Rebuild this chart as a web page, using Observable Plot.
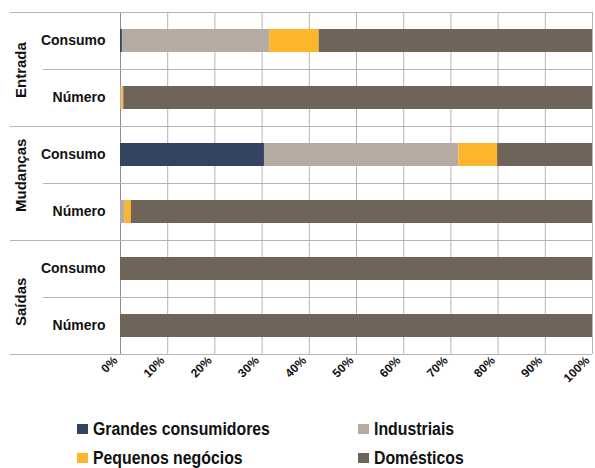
<!DOCTYPE html>
<html><head><meta charset="utf-8">
<script src="https://cdn.jsdelivr.net/npm/d3@7"></script>
<script src="https://cdn.jsdelivr.net/npm/@observablehq/plot@0.6"></script>
<style>
body{margin:0;background:#fff;font-family:"Liberation Sans",Arial,sans-serif;}
#legend{display:grid;grid-template-columns:281px 220px;margin-left:77px;margin-top:13px;row-gap:5px;font-weight:bold;font-size:18px;color:#111;}
#legend div{display:flex;align-items:center;height:24px;white-space:nowrap;}
#legend span.sw{width:11px;height:10px;margin-right:5px;display:inline-block;flex:none;}
#legend span.tx{display:inline-block;transform:scaleX(0.88);transform-origin:left center;}
</style></head><body>
<div id="chart"></div>
<div id="legend"></div>
<script>
const groups = ["Entrada","Mudanças","Saídas"];
const measures = ["Consumo","Número"];
const categories = ["Grandes consumidores","Industriais","Pequenos negócios","Domésticos"];
const colors = ["#32445f","#b5aba2","#fdb52b","#6e645a"];
// values in % per row: Entrada Consumo, Entrada Número, Mudanças Consumo, Mudanças Número, Saídas Consumo, Saídas Número
const grandes     = [0.4, 0,    30.5, 0,   0,   0];
const industriais = [31.2, 0.3, 41.2, 1.0, 0,   0];
const pequenos    = [10.5, 0.4, 8.2,  1.3, 0,   0];
const domesticos  = [57.9, 99.3, 20.1, 97.7, 100, 100];
const xTicks = [0,10,20,30,40,50,60,70,80,90,100];

const rows = [];
groups.forEach(g => measures.forEach(m => rows.push({group:g, measure:m, key:g+"|"+m})));
const keys = rows.map(r => r.key);
const series = [grandes, industriais, pequenos, domesticos];
const data = [];
rows.forEach((r,i) => categories.forEach((c,j) => data.push({key:r.key, category:c, value:series[j][i]})));
const groupTops = groups.map(g => g+"|"+measures[0]);
const innerTops = groups.map(g => g+"|"+measures[1]);

const font = '"Liberation Sans",Arial,sans-serif';
const chart = Plot.plot({
  width: 595, height: 404,
  marginLeft: 120, marginRight: 3, marginTop: 12, marginBottom: 50,
  style: {fontFamily: font, background: "#fff"},
  x: {domain: [0,100], axis: null},
  y: {domain: keys, padding: 0, axis: null},
  color: {domain: categories, range: colors},
  marks: [
    Plot.ruleX(xTicks, {stroke: d => d === 0 ? "#8c8c8c" : "#b4b4b4", strokeWidth: 1}),
    Plot.barX(data, Plot.stackX({x: "value", y: "key", fill: "category", order: categories, insetTop: 17, insetBottom: 17})),
    Plot.ruleY(groupTops, {y: d => d, dy: -28.5, stroke: "#b4b4b4", insetLeft: -110}),
    Plot.ruleY(innerTops, {y: d => d, dy: -28.5, stroke: "#b4b4b4", insetLeft: -77}),
    Plot.ruleY([keys[keys.length-1]], {y: d => d, dy: 28.5, stroke: "#b4b4b4", insetLeft: -110}),
    Plot.axisY({domain: keys, label: null, tickSize: 0, tickPadding: 15, tickFormat: d => d.split("|")[1], fontSize: 14, fontWeight: "bold", fill: "#111"}),
    Plot.text(innerTops, {y: d => d, text: d => d.split("|")[0], frameAnchor: "left", dx: -99, rotate: -90, fontSize: 15, fontWeight: "bold", fill: "#111"}),
    Plot.axisX(xTicks, {label: null, tickSize: 0, tickRotate: -45, tickFormat: d => d + "%", fontSize: 12, fontWeight: "bold", fill: "#111", tickPadding: 4, dx: -5, style: {letterSpacing: "-0.6px"}})
  ]
});
document.getElementById("chart").appendChild(chart);

const leg = document.getElementById("legend");
[0,1,2,3].forEach(i => {
  const d = document.createElement("div");
  d.innerHTML = `<span class="sw" style="background:${colors[i]}"></span><span class="tx">${categories[i]}</span>`;
  leg.appendChild(d);
});
</script>
</body></html>
